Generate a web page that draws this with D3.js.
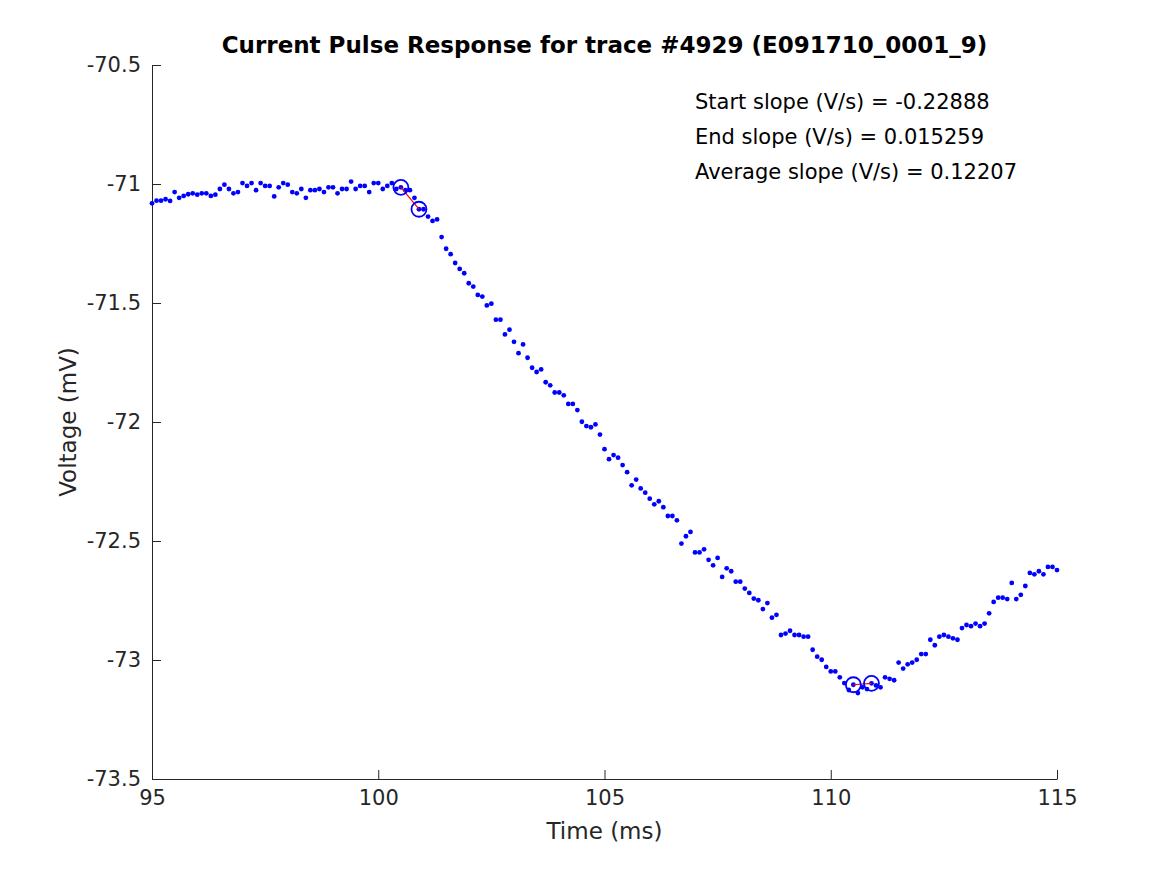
<!DOCTYPE html>
<html>
<head>
<meta charset="utf-8">
<script src="https://cdn.jsdelivr.net/npm/d3@7"></script>
<style>
  body { margin: 0; background: #fff; }
  svg text { font-family: "DejaVu Sans", sans-serif; }
</style>
</head>
<body>
<svg class="chart"></svg>
<script>
var width = 1167,
    height = 875,
    margin = { top: 65, right: 110, bottom: 96, left: 152 }

// sampling grid of the trace (ms)
var tStart = 95, tStep = 0.1

// membrane voltage (mV), one value per sample from 95 ms to 115 ms
var voltage = [
  -71.081, -71.070, -71.070, -71.064, -71.071, -71.034, -71.058, -71.050, -71.043, -71.039,
  -71.045, -71.039, -71.039, -71.050, -71.045, -71.021, -71.003, -71.021, -71.039, -71.034,
  -70.996, -71.008, -70.996, -71.026, -70.996, -71.008, -71.008, -71.052, -71.014, -70.996,
  -71.003, -71.034, -71.039, -71.021, -71.058, -71.026, -71.026, -71.021, -71.034, -71.014,
  -71.014, -71.039, -71.021, -71.021, -70.990, -71.021, -71.008, -71.008, -71.034, -70.996,
  -70.996, -71.021, -71.008, -70.996, -71.021, -71.014, -71.026, -71.026, -71.058, -71.106,
  -71.106, -71.137, -71.155, -71.149, -71.223, -71.272, -71.295, -71.332, -71.357, -71.375,
  -71.417, -71.431, -71.466, -71.473, -71.510, -71.503, -71.570, -71.570, -71.632, -71.612,
  -71.663, -71.711, -71.674, -71.730, -71.772, -71.790, -71.779, -71.833, -71.846, -71.876,
  -71.876, -71.888, -71.924, -71.924, -71.950, -71.999, -72.017, -72.022, -72.010, -72.053,
  -72.114, -72.156, -72.139, -72.150, -72.181, -72.211, -72.266, -72.242, -72.279, -72.297,
  -72.322, -72.346, -72.333, -72.358, -72.395, -72.395, -72.413, -72.511, -72.480, -72.462,
  -72.548, -72.548, -72.535, -72.579, -72.602, -72.571, -72.651, -72.615, -72.627, -72.671,
  -72.671, -72.700, -72.718, -72.742, -72.749, -72.786, -72.761, -72.822, -72.810, -72.895,
  -72.889, -72.877, -72.895, -72.895, -72.902, -72.902, -72.957, -72.986, -72.999, -73.029,
  -73.048, -73.048, -73.073, -73.097, -73.126, -73.104, -73.139, -73.115, -73.122, -73.098,
  -73.107, -73.115, -73.073, -73.079, -73.085, -73.011, -73.036, -73.018, -73.011, -72.999,
  -72.975, -72.975, -72.915, -72.938, -72.902, -72.895, -72.902, -72.909, -72.915, -72.866,
  -72.853, -72.858, -72.847, -72.858, -72.847, -72.804, -72.756, -72.738, -72.738, -72.744,
  -72.676, -72.744, -72.726, -72.689, -72.634, -72.640, -72.627, -72.640, -72.609, -72.609,
  -72.622
]

// sample indices used for the slope fits
var startPair = [55, 59]
var endPair = [155, 159]

var xTicks = [95, 100, 105, 110, 115]
var yTicks = [-70.5, -71, -71.5, -72, -72.5, -73, -73.5]

var annotations = [
  "Start slope (V/s) = -0.22888",
  "End slope (V/s) = 0.015259",
  "Average slope (V/s) = 0.12207"
]

var titleText = "Current Pulse Response for trace #4929 (E091710_0001_9)"

var svg = d3.select(".chart")
    .attr("width", width)
    .attr("height", height)

var times = voltage.map((v, i) => tStart + i * tStep)

var xScale = d3.scaleLinear()
    .domain([95, 115])
    .range([margin.left, width - margin.right])
var yScale = d3.scaleLinear()
    .domain([-73.5, -70.5])
    .range([height - margin.bottom, margin.top])

var axisColor = "#262626"

// x axis, ticks pointing inward
svg.append("g")
    .attr("class", "x axis")
    .attr("transform", `translate(0,${height - margin.bottom})`)
    .call(d3.axisBottom(xScale).tickValues(xTicks).tickSizeInner(-9).tickSizeOuter(0).tickPadding(11)
        .tickFormat(d3.format("d")))
    .call(g => g.select(".domain").attr("stroke", axisColor))
    .call(g => g.selectAll(".tick line").attr("stroke", axisColor))
    .call(g => g.selectAll(".tick text").attr("fill", axisColor).style("font-size", "21px"))

svg.append("g")
    .attr("class", "y axis")
    .attr("transform", `translate(${margin.left},0)`)
    .call(d3.axisLeft(yScale).tickValues(yTicks).tickSizeInner(-9).tickSizeOuter(0).tickPadding(11)
        .tickFormat(d => d3.format("")(d).replace("−", "-")))
    .call(g => g.select(".domain").attr("stroke", axisColor))
    .call(g => g.selectAll(".tick line").attr("stroke", axisColor))
    .call(g => g.selectAll(".tick text").attr("fill", axisColor).style("font-size", "21px"))

// axis labels
svg.append("text")
    .attr("x", xScale(105))
    .attr("y", 839)
    .attr("text-anchor", "middle")
    .attr("fill", axisColor)
    .style("font-size", "23px")
    .text("Time (ms)")

svg.append("text")
    .attr("transform", `translate(76,${yScale(-72)}) rotate(-90)`)
    .attr("text-anchor", "middle")
    .attr("fill", axisColor)
    .style("font-size", "23px")
    .text("Voltage (mV)")

svg.append("text")
    .attr("x", xScale(105))
    .attr("y", 53)
    .attr("text-anchor", "middle")
    .attr("fill", "#000")
    .style("font-size", "23px")
    .style("font-weight", "bold")
    .text(titleText)

// data points
svg.append("g")
    .attr("class", "dots")
    .selectAll("circle")
    .data(voltage)
    .join("circle")
    .attr("cx", (d, i) => xScale(times[i]))
    .attr("cy", d => yScale(d))
    .attr("r", 2.4)
    .attr("fill", "#0000ff")

// slope segments and their end markers
var pairs = [startPair, endPair]
var fits = svg.append("g").attr("class", "fits")

fits.selectAll("line")
    .data(pairs)
    .join("line")
    .attr("x1", p => xScale(times[p[0]]))
    .attr("y1", p => yScale(voltage[p[0]]))
    .attr("x2", p => xScale(times[p[1]]))
    .attr("y2", p => yScale(voltage[p[1]]))
    .attr("stroke", "#ff0000")
    .attr("stroke-width", 1.2)

fits.selectAll("circle")
    .data(pairs.flat())
    .join("circle")
    .attr("cx", i => xScale(times[i]))
    .attr("cy", i => yScale(voltage[i]))
    .attr("r", 7.5)
    .attr("fill", "none")
    .attr("stroke", "#0000ff")
    .attr("stroke-width", 1.8)

// slope readouts
svg.append("g")
    .attr("class", "notes")
    .selectAll("text")
    .data(annotations)
    .join("text")
    .attr("x", 695)
    .attr("y", (d, i) => 109 + i * 35)
    .attr("fill", "#000")
    .style("font-size", "21px")
    .text(d => d)
</script>
</body>
</html>
